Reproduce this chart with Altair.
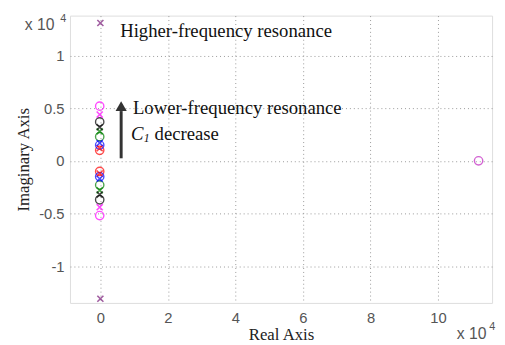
import altair as alt
import pandas as pd

# values in units of 1e4
colors = ["red", "blue", "green", "black", "magenta"]
pole_real = [-0.02, -0.02, -0.02, -0.02, -0.02]
pole_imag = [0.12, 0.17, 0.28, 0.32, 0.44]
zero_real = [-0.02, -0.02, -0.02, -0.02, -0.02]
zero_imag = [0.10, 0.15, 0.23, 0.37, 0.52]
hf_real = [0.0, 0.0]
hf_imag = [1.31, -1.31]
far_zero_real = [11.2]
far_zero_imag = [0.0]
x_ticks = [0, 2, 4, 6, 8, 10]
y_ticks = [-1, -0.5, 0, 0.5, 1]

rows = []
for c, pr, pi, zr, zi in zip(colors, pole_real, pole_imag, zero_real, zero_imag):
    rows.append(dict(re=pr, im=pi, color=c, kind="pole"))
    rows.append(dict(re=pr, im=-pi, color=c, kind="pole"))
    rows.append(dict(re=zr, im=zi, color=c, kind="zero"))
    rows.append(dict(re=zr, im=-zi, color=c, kind="zero"))
for r, i in zip(hf_real, hf_imag):
    rows.append(dict(re=r, im=i, color="#7a1a7a", kind="pole"))
for r, i in zip(far_zero_real, far_zero_imag):
    rows.append(dict(re=r, im=i, color="#c020c0", kind="zero"))
df = pd.DataFrame(rows)

W, H = 429, 292
serif = "Liberation Serif"
sans = "Liberation Sans"
grey = "#555555"

xs = alt.Scale(domain=[-0.9, 11.6], nice=False, zero=False)
ys = alt.Scale(domain=[-1.35, 1.38], nice=False, zero=False)

xax = alt.Axis(values=x_ticks, grid=True, gridDash=[1, 3], gridColor="#999", gridWidth=1,
               domain=False, ticks=False, labelFont=sans, labelFontSize=15, labelColor=grey,
               labelPadding=8, labelExpr="toString(datum.value)",
               title="Real Axis", titleFont=serif, titleFontSize=17,
               titleFontWeight="normal", titleColor="#222", titlePadding=1)
yax = alt.Axis(values=y_ticks, grid=True, gridDash=[1, 3], gridColor="#999", gridWidth=1,
               domain=False, ticks=False, labelFont=sans, labelFontSize=15, labelColor=grey,
               labelPadding=6, labelExpr="toString(datum.value)",
               title="Imaginary Axis", titleFont=serif, titleFontSize=17,
               titleFontWeight="normal", titleColor="#222", titleX=-47, titleY=H / 2,
               titleBaseline="middle")

base = alt.Chart(df)
color_enc = alt.Color("color:N", scale=None)

zeros = base.transform_filter(alt.datum.kind == "zero").mark_point(
    shape="circle", filled=False, size=72, strokeWidth=1.4
).encode(x=alt.X("re:Q", scale=xs, axis=xax), y=alt.Y("im:Q", scale=ys, axis=yax), color=color_enc)

poles = base.transform_filter(alt.datum.kind == "pole").mark_point(
    shape="M-1,-1L1,1M1,-1L-1,1", filled=False, size=38, strokeWidth=1.6
).encode(x=alt.X("re:Q", scale=xs), y=alt.Y("im:Q", scale=ys), color=color_enc)

def txt(s, x, y, size=19, font=serif, style="normal", color="#111", align="left"):
    return alt.Chart(pd.DataFrame({"t": [s]})).mark_text(
        font=font, fontSize=size, fontStyle=style, color=color, align=align, baseline="middle"
    ).encode(text="t:N", x=alt.value(x), y=alt.value(y))

ox, oy = 71, 13
annots = [
    txt("Higher-frequency resonance", 122 - ox, 29 - oy),
    txt("Lower-frequency resonance", 135 - ox, 107 - oy),
    txt("C", 133 - ox, 133 - oy, style="italic"),
    txt("1", 146 - ox, 137 - oy, size=12, style="italic"),
    txt("decrease", 157 - ox, 133 - oy),
    txt("x 10", 25 - ox, 23 - oy, size=16, font=sans, color=grey),
    txt("4", 61 - ox, 16 - oy, size=11, font=sans, color=grey),
    txt("x 10", 464 - ox, 337 - oy, size=16, font=sans, color=grey),
    txt("4", 497 - ox, 330 - oy, size=11, font=sans, color=grey),
]

shaft = alt.Chart(pd.DataFrame({"a": [0]})).mark_rule(color="#333", strokeWidth=3).encode(
    x=alt.value(123 - ox), y=alt.value(158 - oy), y2=alt.value(110 - oy))
head = alt.Chart(pd.DataFrame({"a": [0]})).mark_point(
    shape="triangle-up", filled=True, size=130, color="#333", opacity=1
).encode(x=alt.value(123 - ox), y=alt.value(105 - oy))

chart = alt.layer(zeros, poles, shaft, head, *annots).properties(
    width=W, height=H,
    autosize=alt.AutoSizeParams(type="none"),
    padding={"left": 63, "top": 5, "right": 5, "bottom": 40},
).configure_view(stroke="#888", strokeWidth=1.5).configure(background="white")

chart.save("out.html", embed_options={"renderer": "svg", "actions": False})
